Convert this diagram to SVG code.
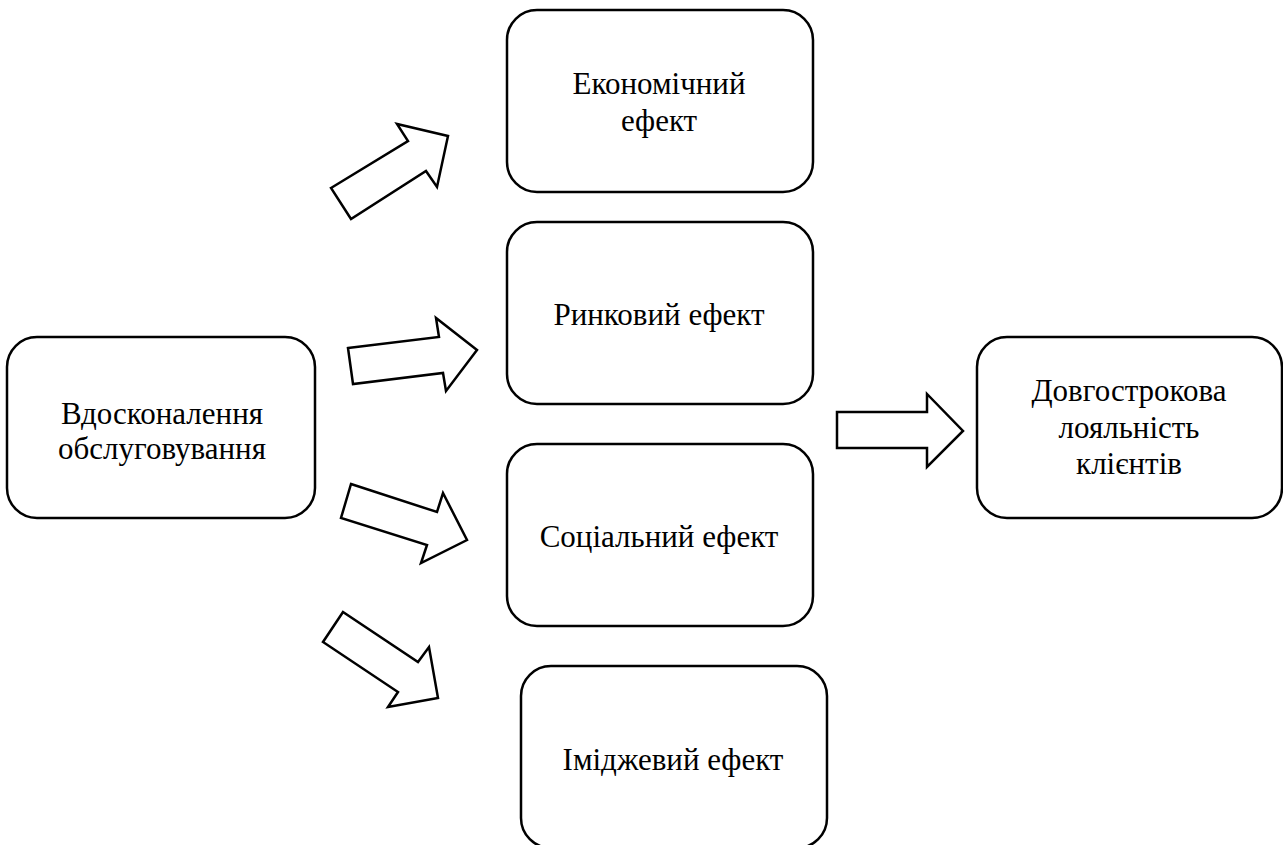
<svg xmlns="http://www.w3.org/2000/svg" width="1283" height="845" viewBox="0 0 1283 845">
  <style>
    .box { fill: #ffffff; stroke: #000000; stroke-width: 2.5; }
    .arrow { fill: #ffffff; stroke: #000000; stroke-width: 2.5; stroke-linejoin: miter; }
    .label { font-family: "Liberation Serif", "Times New Roman", Tinos, "Noto Serif", "DejaVu Serif", "Noto Serif CJK SC", serif; font-size: 31px; fill: #000000; text-anchor: middle; }
  </style>
  <rect width="1283" height="845" fill="#ffffff"/>

  <g id="node-improvement">
    <rect class="box" x="7" y="337" width="308" height="181" rx="30" ry="30"/>
    <text class="label" x="162" y="424">Вдосконалення</text>
    <text class="label" x="162" y="459">обслуговування</text>
  </g>

  <g id="node-economic">
    <rect class="box" x="507" y="10" width="306" height="182" rx="30" ry="30"/>
    <text class="label" x="659" y="94">Економічний</text>
    <text class="label" x="659" y="131">ефект</text>
  </g>

  <g id="node-market">
    <rect class="box" x="507" y="222" width="306" height="182" rx="30" ry="30"/>
    <text class="label" x="659" y="325">Ринковий ефект</text>
  </g>

  <g id="node-social">
    <rect class="box" x="507" y="444" width="306" height="182" rx="30" ry="30"/>
    <text class="label" x="659" y="547">Соціальний ефект</text>
  </g>

  <g id="node-image">
    <rect class="box" x="521" y="666" width="306" height="182" rx="30" ry="30"/>
    <text class="label" x="673" y="770">Іміджевий ефект</text>
  </g>

  <g id="node-loyalty">
    <rect class="box" x="977" y="337" width="305" height="181" rx="30" ry="30"/>
    <text class="label" x="1129" y="401">Довгострокова</text>
    <text class="label" x="1129" y="438">лояльність</text>
    <text class="label" x="1129" y="474">клієнтів</text>
  </g>

  <g id="connectors">
    <polygon class="arrow" points="331,188 408,141 397,124 448,136 437,187 426,171 351,219"/>
    <polygon class="arrow" points="348,348 439,337 436,318 477,350 446,391 443,373 353,384"/>
    <polygon class="arrow" points="351,484 437,512 443,493 467,540 421,563 427,545 341,518"/>
    <polygon class="arrow" points="343,612 418,662 429,647 438,698 388,707 398,692 323,642"/>
    <polygon class="arrow" points="837,412 927,412 927,394 963,431 927,467 927,448 837,448"/>
  </g>
</svg>
